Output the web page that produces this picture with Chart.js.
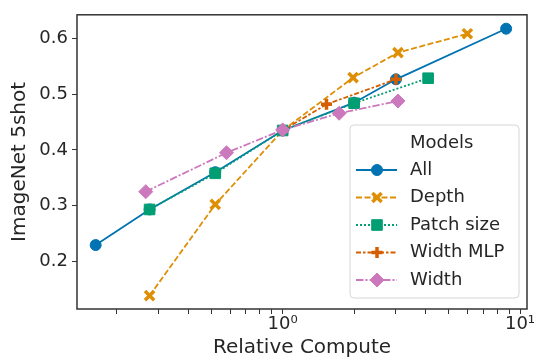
<!DOCTYPE html>
<html>
<head>
<meta charset="utf-8">
<script src="https://cdn.jsdelivr.net/npm/chart.js@4"></script>
<style>
  html, body { margin: 0; padding: 0; background: #fff; }
  #wrap { width: 537px; height: 362px; }
</style>
</head>
<body>
<div id="wrap"><canvas id="chart" width="537" height="362"></canvas></div>
<script>
// values
const seriesNames = ['All', 'Depth', 'Patch size', 'Width MLP', 'Width'];

const allCompute = [0.163, 0.275, 0.52, 1, 2, 3, 8.74];
const allScore = [0.229, 0.293, 0.36, 0.435, 0.485, 0.527, 0.618];

const depthCompute = [0.275, 0.52, 1, 1.98, 3.06, 6.0];
const depthScore = [0.138, 0.302, 0.435, 0.53, 0.575, 0.609];

const patchCompute = [0.275, 0.52, 1, 2.0, 4.1];
const patchScore = [0.293, 0.358, 0.435, 0.484, 0.529];

const mlpCompute = [1, 1.53, 3.0];
const mlpScore = [0.435, 0.482, 0.527];

const widthCompute = [0.265, 0.58, 1, 1.73, 3.06];
const widthScore = [0.325, 0.395, 0.436, 0.466, 0.488];

const yTicks = [0.2, 0.3, 0.4, 0.5, 0.6];
const xTicks = [0.2, 0.3, 0.4, 0.5, 0.6, 0.7, 0.8, 0.9, 1, 2, 3, 4, 5, 6, 7, 8, 9, 10];
const xTickLabels = { 1: '10\u2070', 10: '10\u00b9' };

const seriesX = [allCompute, depthCompute, patchCompute, mlpCompute, widthCompute];
const seriesY = [allScore, depthScore, patchScore, mlpScore, widthScore];

// look of each series (seaborn colorblind palette)
const styles = [
  { color: '#0173b2', dash: [], point: 'circle', radius: 5.5, pbw: 1 },
  { color: '#de8f05', dash: [6, 2.5], point: 'crossRot', radius: 6.5, pbw: 3.5 },
  { color: '#029e73', dash: [2, 2], point: 'rect', radius: 7.5, pbw: 1 },
  { color: '#d55e00', dash: [5, 2, 2.5, 2], point: 'cross', radius: 5.5, pbw: 3.5 },
  { color: '#cc78bc', dash: [7.5, 2, 2, 2], point: 'rectRot', radius: 7, pbw: 1 }
];

const FONT = 'DejaVu Sans';
const TEXT = '#262626';

const datasets = seriesNames.map((name, i) => ({
  label: name,
  data: seriesX[i].map((x, j) => ({ x: x, y: seriesY[i][j] })),
  borderColor: styles[i].color,
  backgroundColor: styles[i].color,
  borderWidth: 1.8,
  borderDash: styles[i].dash,
  pointStyle: styles[i].point,
  pointRadius: styles[i].radius,
  pointBorderWidth: styles[i].pbw,
  pointBorderColor: styles[i].color,
  pointBackgroundColor: styles[i].color,
  order: seriesNames.length - i,
  fill: false,
  tension: 0
}));

// box around the plot, like matplotlib spines
const frame = {
  id: 'frame',
  afterDatasetsDraw(chart) {
    const a = chart.chartArea;
    const ctx = chart.ctx;
    ctx.save();
    ctx.strokeStyle = '#333';
    ctx.lineWidth = 1.5;
    ctx.strokeRect(a.left, a.top, a.right - a.left, a.bottom - a.top);
    ctx.restore();
  }
};

// legend with a title row and line + marker samples
const boxLegend = {
  id: 'boxLegend',
  afterDraw(chart) {
    const a = chart.chartArea;
    const ctx = chart.ctx;
    const w = 169, h = 173;
    const x0 = a.right - 8 - w, y0 = a.bottom - 11 - h;
    ctx.save();
    ctx.beginPath();
    ctx.roundRect(x0, y0, w, h, 4);
    ctx.fillStyle = 'rgba(255,255,255,0.85)';
    ctx.fill();
    ctx.strokeStyle = '#d6d6d6';
    ctx.lineWidth = 1;
    ctx.stroke();

    ctx.font = '18px "' + FONT + '"';
    ctx.fillStyle = TEXT;
    ctx.textBaseline = 'middle';
    ctx.fillText('Models', x0 + 60, y0 + 18);

    seriesNames.forEach((name, i) => {
      const s = styles[i];
      const y = y0 + 45 + i * 27.5;
      ctx.strokeStyle = s.color;
      ctx.lineWidth = 1.8;
      ctx.setLineDash(s.dash);
      ctx.beginPath();
      ctx.moveTo(x0 + 6, y);
      ctx.lineTo(x0 + 47, y);
      ctx.stroke();
      ctx.setLineDash([]);
      ctx.fillStyle = s.color;
      ctx.lineWidth = s.pbw;
      Chart.helpers.drawPoint(ctx, { pointStyle: s.point, radius: s.radius, rotation: 0, borderWidth: s.pbw }, x0 + 27, y);
      ctx.fillStyle = TEXT;
      ctx.fillText(name, x0 + 60, y);
    });
    ctx.restore();
  }
};

new Chart(document.getElementById('chart'), {
  type: 'line',
  data: { datasets: datasets },
  options: {
    responsive: false,
    animation: false,
    layout: { padding: { top: 13, right: 7, left: 0, bottom: 0 } },
    plugins: { legend: { display: false }, tooltip: { enabled: false } },
    scales: {
      x: {
        type: 'logarithmic',
        min: 0.136,
        max: 10.7,
        afterBuildTicks: (s) => { s.ticks = xTicks.map(v => ({ value: v, major: v === 1 || v === 10 })); },
        afterFit: (s) => { s.height = 53; },
        ticks: {
          autoSkip: false,
          maxRotation: 0,
          padding: 0,
          color: TEXT,
          font: { family: FONT, size: 18 },
          callback: (v) => xTickLabels[v] || ''
        },
        grid: { display: true, drawOnChartArea: false, tickLength: 5, tickColor: '#333', tickWidth: 1 },
        border: { display: false },
        title: { display: true, text: 'Relative Compute', color: TEXT, font: { family: FONT, size: 20 }, padding: { top: 0, bottom: 2 } }
      },
      y: {
        min: 0.114,
        max: 0.643,
        afterBuildTicks: (s) => { s.ticks = yTicks.map(v => ({ value: v })); },
        afterFit: (s) => { s.width = 77; },
        ticks: {
          padding: 4,
          color: TEXT,
          font: { family: FONT, size: 18 },
          callback: (v) => v.toFixed(1)
        },
        grid: { display: true, drawOnChartArea: false, tickLength: 5, tickColor: '#333', tickWidth: 1 },
        border: { display: false },
        title: { display: true, text: 'ImageNet 5shot', color: TEXT, font: { family: FONT, size: 20 }, padding: { top: 8, bottom: 0 } }
      }
    }
  },
  plugins: [frame, boxLegend]
});
</script>
</body>
</html>
